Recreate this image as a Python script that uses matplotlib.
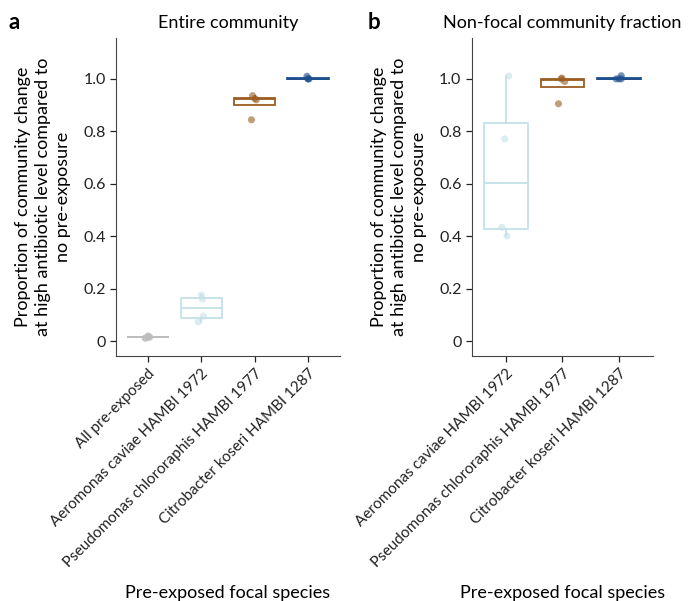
import numpy as np
import matplotlib
matplotlib.use('Agg')
import matplotlib.pyplot as plt

plt.rcParams['font.family'] = ['Lato', 'DejaVu Sans']
plt.rcParams['font.size'] = 11.5

# Species labels
labels_a = ['All pre-exposed', 'Aeromonas caviae HAMBI 1972',
            'Pseudomonas chlororaphis HAMBI 1977', 'Citrobacter koseri HAMBI 1287']
labels_b = labels_a[1:]

# Proportion of community change, panel a (entire community)
all_pre_a = [0.011, 0.015, 0.015, 0.019]
aeromonas_a = [0.073, 0.095, 0.160, 0.175]
pseudomonas_a = [0.844, 0.920, 0.925, 0.936]
citrobacter_a = [1.000, 1.000, 1.000, 1.010]

# Panel b (non-focal community fraction)
aeromonas_b = [0.401, 0.434, 0.771, 1.011]
pseudomonas_b = [0.905, 0.990, 1.000, 1.003]
citrobacter_b = [1.000, 1.000, 1.000, 1.012]

# small horizontal offsets so that points do not fully overlap
jit_a = [[-0.05, 0.0, 0.03, 0.0], [-0.06, 0.04, 0.02, 0.0],
         [-0.06, 0.03, 0.0, -0.04], [0.0, 0.02, 0.0, -0.02]]
jit_b = [[0.02, -0.07, -0.02, 0.05], [-0.07, 0.04, -0.02, -0.01],
         [-0.05, 0.04, 0.0, 0.04]]

c_gray = '#bdbdbd'
c_light = '#c4e1e8'
c_brown = '#9c5d22'
c_blue = '#1d4f8c'
point_alpha = [0.9, 0.6, 0.6, 0.6]

yl = 'Proportion of community change\nat high antibiotic level compared to\nno pre-exposure'
label_size = 13


def draw_panel(ax, groups, cols, jit, labels, alphas):
    pos = np.arange(len(groups))
    bp = ax.boxplot(groups, positions=pos, widths=0.77, showfliers=False,
                    showcaps=False, patch_artist=True, whis=1.5)
    for i, c in enumerate(cols):
        bp['boxes'][i].set(facecolor='white', edgecolor=c, linewidth=1.3)
        bp['medians'][i].set(color=c, linewidth=1.3)
        for w in bp['whiskers'][2 * i:2 * i + 2]:
            w.set(color=c, linewidth=1.3)
    for i, (g, c) in enumerate(zip(groups, cols)):
        ax.scatter(pos[i] + np.array(jit[i]), g, s=26, color=c,
                   alpha=alphas[i], edgecolors='none', zorder=3)
    ax.set_xlim(-0.6, len(groups) - 0.4)
    ax.set_ylim(-0.057, 1.156)
    ax.set_yticks([0, 0.2, 0.4, 0.6, 0.8, 1.0])
    ax.set_yticklabels(['0', '0.2', '0.4', '0.6', '0.8', '1.0'])
    ax.set_xticks(pos)
    ax.set_xticklabels(labels, rotation=45, ha='right', rotation_mode='anchor')
    for lab in ax.get_xticklabels():
        lab.set_fontsize(11)
    ax.spines['top'].set_visible(False)
    ax.spines['right'].set_visible(False)
    ax.spines['left'].set_color('#444444')
    ax.spines['bottom'].set_color('#444444')
    ax.tick_params(colors='#222222', length=4, width=0.9)
    ax.set_ylabel(yl, linespacing=1.3, fontsize=label_size, labelpad=9)
    ax.set_xlabel('Pre-exposed focal species', fontsize=label_size, labelpad=11)


fig = plt.figure(figsize=(6.88, 6.01), dpi=100)
ax1 = fig.add_axes([0.1686, 0.4077, 0.3256, 0.5291])
ax2 = fig.add_axes([0.686, 0.4077, 0.263, 0.5291])

draw_panel(ax1, [all_pre_a, aeromonas_a, pseudomonas_a, citrobacter_a],
           [c_gray, c_light, c_brown, c_blue], jit_a, labels_a, point_alpha)
draw_panel(ax2, [aeromonas_b, pseudomonas_b, citrobacter_b],
           [c_light, c_brown, c_blue], jit_b, labels_b, point_alpha[1:])

ax1.set_title('Entire community', fontsize=label_size, pad=7)
ax2.set_title('Non-focal community fraction', fontsize=label_size, pad=7)
fig.text(0.012, 0.963, 'a', fontsize=16, fontweight='bold', va='center')
fig.text(0.535, 0.963, 'b', fontsize=16, fontweight='bold', va='center')

fig.savefig('out.png', dpi=100)
